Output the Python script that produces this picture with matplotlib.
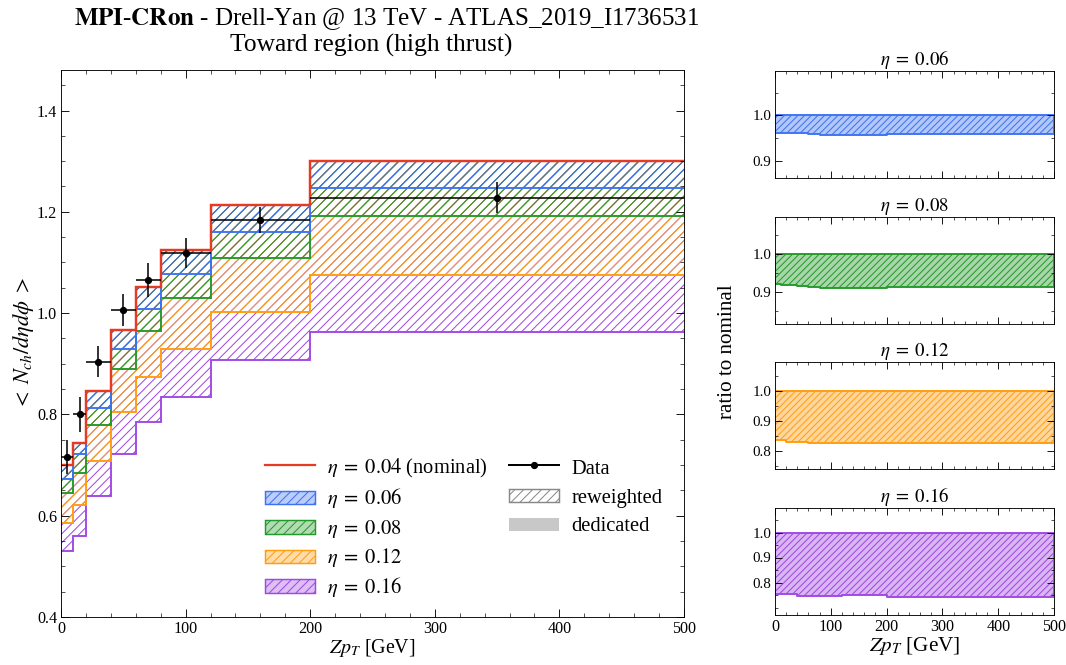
import numpy as np
import matplotlib
matplotlib.use("Agg")
import matplotlib.pyplot as plt
from matplotlib.patches import Patch, Rectangle
from matplotlib.lines import Line2D
from matplotlib.legend_handler import HandlerPatch
from matplotlib.ticker import MultipleLocator, FixedLocator

# bin edges in Z pT [GeV]
edges = [0, 10, 20, 40, 60, 80, 120, 200, 500]

# <N_ch / deta dphi> per bin
nominal = [0.700, 0.743, 0.846, 0.967, 1.051, 1.124, 1.214, 1.300]
eta06 = [0.672, 0.721, 0.813, 0.930, 1.008, 1.077, 1.161, 1.247]
eta08 = [0.645, 0.685, 0.779, 0.889, 0.964, 1.029, 1.109, 1.191]
eta12 = [0.586, 0.622, 0.708, 0.805, 0.873, 0.929, 1.003, 1.075]
eta16 = [0.531, 0.560, 0.639, 0.721, 0.785, 0.835, 0.908, 0.962]

# ATLAS data
data_x = [5, 15, 30, 50, 70, 100, 160, 350]
data_y = [0.716, 0.800, 0.904, 1.006, 1.065, 1.119, 1.184, 1.228]
data_err = [0.033, 0.034, 0.031, 0.031, 0.034, 0.030, 0.025, 0.030]

# ratio to nominal, right panels
r06 = [0.961, 0.961, 0.961, 0.961, 0.958, 0.957, 0.957, 0.958]
r08 = [0.922, 0.920, 0.918, 0.915, 0.913, 0.912, 0.912, 0.913]
r12 = [0.836, 0.836, 0.830, 0.830, 0.826, 0.826, 0.826, 0.826]
r16 = [0.756, 0.753, 0.753, 0.747, 0.747, 0.746, 0.749, 0.743]

eta_labels = ["0.06", "0.08", "0.12", "0.16"]
colors = ["#3d72f2", "#23992a", "#ff9d0d", "#a047e4"]
red = "#e63a22"

plt.rcParams["font.family"] = "serif"
plt.rcParams["font.serif"] = ["Liberation Serif", "DejaVu Serif"]
plt.rcParams["mathtext.fontset"] = "stix"
plt.rcParams["hatch.linewidth"] = 0.9
plt.rcParams["xtick.direction"] = "in"
plt.rcParams["ytick.direction"] = "in"
plt.rcParams["xtick.top"] = True
plt.rcParams["ytick.right"] = True

fig = plt.figure(figsize=(1066 / 80, 665 / 80), dpi=80)

edges_a = np.array(edges)
ax = fig.add_axes([61 / 1066, 1 - 617 / 665, 623 / 1066, 547 / 665])

variations = [eta06, eta08, eta12, eta16]
# draw widest band first so the narrow ones sit on top
for var, c in reversed(list(zip(variations, colors))):
    lo = np.append(var, var[-1])
    hi = np.append(nominal, nominal[-1])
    ax.fill_between(edges_a, lo, hi, step="post", facecolor="none",
                    edgecolor=c, hatch="///", linewidth=0)
    ax.stairs(var, edges_a, baseline=None, color=c, lw=1.7)
ax.stairs(nominal, edges_a, baseline=None, color=red, lw=2.2)

xerr = np.diff(edges_a) / 2
ax.errorbar(data_x, data_y, xerr=xerr, yerr=data_err, fmt="o", color="black",
            ms=5.5, lw=1.4, capsize=0, zorder=5)

ax.set_xlim(0, 500)
ax.set_ylim(0.4, 1.48)
ax.xaxis.set_major_locator(MultipleLocator(100))
ax.xaxis.set_minor_locator(MultipleLocator(20))
ax.yaxis.set_major_locator(MultipleLocator(0.2))
ax.yaxis.set_minor_locator(MultipleLocator(0.05))
ax.tick_params(which="major", length=7, labelsize=14.5)
ax.tick_params(which="minor", length=4)
ax.set_xlabel(r"$Zp_T$ [GeV]", fontsize=18, labelpad=0)
ax.set_ylabel(r"$<\;N_{ch}/d\eta d\phi\;>$", fontsize=20, labelpad=1)


def eta_text(v):
    return r"$\eta\;=\;%s$" % v


def short_box(legend, orig_handle, xdescent, ydescent, width, height, fontsize):
    # patch only fills the middle of the (tall) legend row
    return Rectangle((-xdescent, -ydescent + 0.2 * height), width, 0.6 * height)


handles = [Line2D([], [], color=red, lw=2.0)]
labels = [eta_text("0.04") + " (nominal)"]
for c, lab in zip(colors, eta_labels):
    handles.append(Patch(facecolor=matplotlib.colors.to_rgba(c, 0.35),
                         edgecolor=c, hatch="///", lw=1.3))
    labels.append(eta_text(lab))
handles += [Line2D([], [], color="black", marker="o", ms=5.5, lw=1.8),
            Patch(facecolor="white", edgecolor="#888888", hatch="///", lw=1.3),
            Patch(facecolor="#c8c8c8", edgecolor="none"),
            Patch(alpha=0), Patch(alpha=0)]
labels += ["Data", "reweighted", "dedicated", "", ""]
ax.legend(handles, labels, ncol=2, frameon=False, fontsize=18.5,
          loc="lower right", bbox_to_anchor=(0.995, -0.001),
          handlelength=2.45, handleheight=1.3, columnspacing=1.0,
          labelspacing=0.27, handletextpad=0.6,
          handler_map={Patch: HandlerPatch(patch_func=short_box)})

fig.text(387 / 1066, 1 - 19 / 665,
         r"$\mathbf{MPI}$-$\mathbf{CRon}$ - Drell-Yan @ 13 TeV - ATLAS_2019_I1736531",
         ha="center", va="center", fontsize=22.5)
fig.text(371 / 1066, 1 - 45 / 665, "Toward region (high thrust)",
         ha="center", va="center", fontsize=23)

# ratio panels
ratios = [r06, r08, r12, r16]
tops = [71, 217, 362, 508]
ylims = [(0.862, 1.098), (0.816, 1.098), (0.739, 1.098), (0.670, 1.098)]
yticks = [[0.9, 1.0], [0.9, 1.0], [0.8, 0.9, 1.0], [0.8, 0.9, 1.0]]
for i, (rat, c, lab) in enumerate(zip(ratios, colors, eta_labels)):
    rax = fig.add_axes([775 / 1066, 1 - (tops[i] + 107) / 665, 279 / 1066, 107 / 665])
    lo = np.append(rat, rat[-1])
    rax.fill_between(edges_a, lo, 1.0, step="post",
                     facecolor=matplotlib.colors.to_rgba(c, 0.4),
                     edgecolor=c, hatch="////", linewidth=1.7)
    rax.set_xlim(0, 500)
    rax.set_ylim(*ylims[i])
    rax.xaxis.set_major_locator(MultipleLocator(100))
    rax.xaxis.set_minor_locator(MultipleLocator(20))
    rax.yaxis.set_major_locator(FixedLocator(yticks[i]))
    rax.yaxis.set_minor_locator(MultipleLocator(0.05))
    rax.tick_params(which="major", length=6, labelsize=13.5)
    rax.tick_params(which="minor", length=3)
    rax.set_title(eta_text(lab), fontsize=17, pad=4)
    if i < 3:
        rax.tick_params(labelbottom=False)
    else:
        rax.tick_params(axis="x", labelsize=14.5)
        rax.set_xlabel(r"$Zp_T$ [GeV]", fontsize=19, labelpad=0)

fig.text(727 / 1066, 1 - 352 / 665, "ratio to nominal", rotation=90,
         ha="center", va="center", fontsize=19)

fig.savefig("out.png", dpi=80)
